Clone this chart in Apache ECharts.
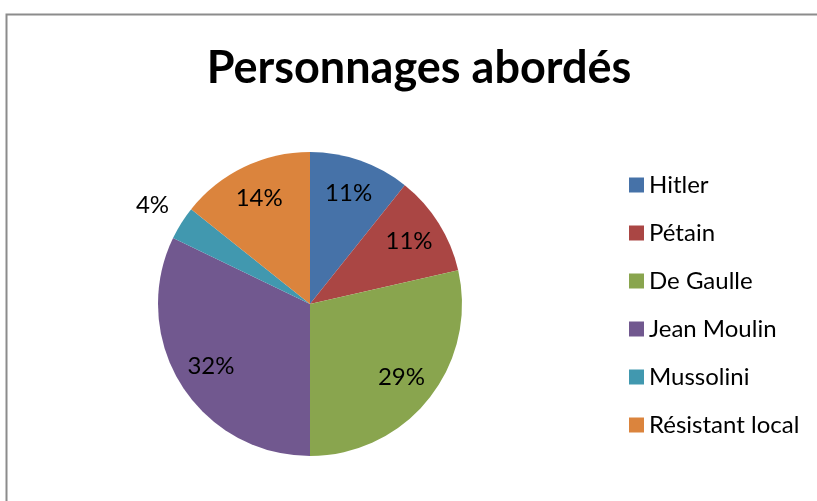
<!DOCTYPE html>
<html>
<head>
<meta charset="utf-8">
<script src="https://cdn.jsdelivr.net/npm/echarts@6/dist/echarts.min.js"></script>
<style>
  html, body { margin: 0; padding: 0; background: #fff; }
  #chart { width: 817px; height: 501px; }
</style>
</head>
<body>
<div id="chart"></div>
<script>
// données
const personnages = ['Hitler', 'Pétain', 'De Gaulle', 'Jean Moulin', 'Mussolini', 'Résistant local']
const effectifs = [3, 3, 8, 9, 1, 4]
const couleurs = ['#4672A8', '#AA4644', '#89A54E', '#71588F', '#4198AF', '#DB843D']

const total = effectifs.reduce((a, b) => a + b, 0)
const pct = v => Math.round(v / total * 100) + '%'

const chart = echarts.init(document.getElementById('chart'))

const baseData = personnages.map((nom, i) => ({
  name: nom,
  value: effectifs[i],
  itemStyle: { color: couleurs[i] }
}))

// étiquettes intérieures (anneau transparent pour les placer vers 3/4 du rayon)
const innerLabels = personnages.map((nom, i) => ({
  name: nom,
  value: effectifs[i],
  label: { show: nom !== 'Mussolini' }
}))

// étiquette extérieure pour la petite part
const outerLabels = personnages.map((nom, i) => ({
  name: nom,
  value: effectifs[i],
  label: { show: nom === 'Mussolini' }
}))

const labelStyle = {
  position: 'inside',
  formatter: p => pct(p.value),
  fontFamily: 'Lato',
  fontSize: 24,
  color: '#000'
}

const option = {
  animation: false,
  backgroundColor: '#fff',
  color: couleurs,
  title: {
    text: 'Personnages abordés',
    left: 414,
    textAlign: 'center',
    top: 41,
    textStyle: { fontFamily: 'Lato', fontWeight: 'bold', fontSize: 45, color: '#000' }
  },
  legend: {
    orient: 'vertical',
    left: 624,
    top: 168,
    data: personnages,
    icon: 'rect',
    itemWidth: 15,
    itemHeight: 15,
    itemGap: 24,
    selectedMode: false,
    textStyle: { fontFamily: 'Lato', fontSize: 24, color: '#000', lineHeight: 24 }
  },
  graphic: [{
    type: 'rect',
    shape: { x: 6.5, y: 14.5, width: 900, height: 600 },
    style: { fill: null, stroke: '#8c8c8c', lineWidth: 2 },
    silent: true
  }],
  series: [
    {
      type: 'pie',
      center: [310, 304],
      radius: 152,
      startAngle: 90,
      clockwise: true,
      label: { show: false },
      labelLine: { show: false },
      silent: true,
      data: baseData
    },
    {
      type: 'pie',
      center: [310, 304],
      radius: [76, 152],
      startAngle: 90,
      clockwise: true,
      itemStyle: { color: 'rgba(0,0,0,0)' },
      label: labelStyle,
      labelLine: { show: false },
      silent: true,
      data: innerLabels
    },
    {
      type: 'pie',
      center: [310, 304],
      radius: [160, 206],
      startAngle: 90,
      clockwise: true,
      itemStyle: { color: 'rgba(0,0,0,0)' },
      label: labelStyle,
      labelLine: { show: false },
      silent: true,
      data: outerLabels
    }
  ]
}

chart.setOption(option)
</script>
</body>
</html>
